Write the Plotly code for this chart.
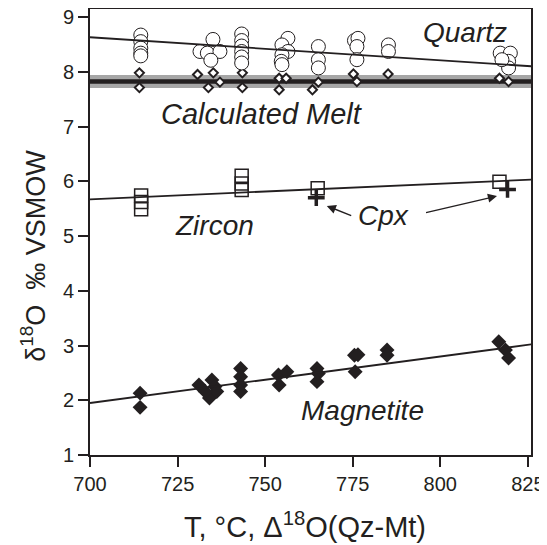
import plotly.graph_objects as go

# ---- data ----
quartz_T = [714.5]*5 + [731.4, 735.1, 733.5, 737.1, 734.5] + [743.3]*6 + \
           [756.5, 754.8, 756.5, 754.8, 754.6, 754.8] + [765.2]*3 + \
           [775.5, 776.5, 776.2, 776.2] + [785.2]*2 + [817.1, 820.0, 819.5, 819.5, 817.6]
quartz_d18O = [8.67, 8.55, 8.43, 8.34, 8.29] + [8.37, 8.59, 8.34, 8.37, 8.21] + \
              [8.69, 8.57, 8.47, 8.37, 8.27, 8.16] + [8.61, 8.49, 8.37, 8.31, 8.19, 8.13] + \
              [8.46, 8.22, 8.07] + [8.57, 8.61, 8.46, 8.22] + [8.49, 8.37] + \
              [8.34, 8.34, 8.19, 8.07, 8.22]

melt_T = [714.1, 714.1, 730.7, 735.2, 737.1, 733.8, 743.5, 743.5, 754.0, 756.0, 754.0,
          765.2, 763.5, 775.2, 776.2, 785.1, 816.9, 819.5]
melt_d18O = [7.98, 7.71, 7.95, 7.98, 7.81, 7.71, 7.98, 7.71, 7.88, 7.88, 7.67,
             7.81, 7.67, 7.96, 7.82, 7.96, 7.88, 7.82]

zircon_T = [714.6]*3 + [743.3]*3 + [765.0, 816.9]
zircon_d18O = [5.74, 5.62, 5.49, 6.10, 5.96, 5.84, 5.87, 5.99]

cpx_T = [764.6, 819.2]
cpx_d18O = [5.70, 5.85]

magnetite_T = [714.3, 714.3, 731.1, 734.8, 735.7, 734.1, 736.2, 732.9, 743.0, 743.0, 743.0, 743.0,
               753.8, 756.2, 754.0, 764.8, 765.2, 764.8, 775.5, 775.7, 776.5, 784.8, 784.8,
               816.7, 818.6, 819.5]
magnetite_d18O = [2.13, 1.87, 2.28, 2.37, 2.25, 2.04, 2.16, 2.16, 2.58, 2.43, 2.28, 2.16,
                  2.46, 2.52, 2.28, 2.58, 2.49, 2.34, 2.82, 2.52, 2.83, 2.92, 2.82,
                  3.07, 2.92, 2.77]

# regression lines (end values)
fit_T = [700, 826]
quartz_fit = [8.63, 8.10]
melt_fit = [7.82, 7.82]
zircon_fit = [5.67, 6.03]
magnetite_fit = [1.95, 3.02]

x_ticks = [700, 725, 750, 775, 800, 825]
y_ticks = [1, 2, 3, 4, 5, 6, 7, 8, 9]

INK = "#231f20"
FONT = "Liberation Sans, Arial, sans-serif"

fig = go.Figure()

# calculated melt band
fig.add_trace(go.Scatter(x=fit_T, y=melt_fit, mode="lines",
                         line=dict(color="#a6a6a6", width=13), hoverinfo="skip"))
fig.add_trace(go.Scatter(x=fit_T, y=melt_fit, mode="lines",
                         line=dict(color=INK, width=4.5), hoverinfo="skip"))

# markers
fig.add_trace(go.Scatter(x=melt_T, y=melt_d18O, mode="markers",
                         marker=dict(symbol="diamond", size=7, color="white",
                                     line=dict(color=INK, width=2))))
fig.add_trace(go.Scatter(x=quartz_T, y=quartz_d18O, mode="markers",
                         marker=dict(symbol="circle", size=14, color="white",
                                     line=dict(color=INK, width=1))))
fig.add_trace(go.Scatter(x=zircon_T, y=zircon_d18O, mode="markers",
                         marker=dict(symbol="square-open", size=13, color=INK,
                                     line=dict(color=INK, width=1.5))))
fig.add_trace(go.Scatter(x=cpx_T, y=cpx_d18O, mode="markers",
                         marker=dict(symbol="cross-thin", size=12,
                                     line=dict(color=INK, width=3.5))))
fig.add_trace(go.Scatter(x=magnetite_T, y=magnetite_d18O, mode="markers",
                         marker=dict(symbol="diamond", size=11.5, color=INK,
                                     line=dict(color=INK, width=0))))

# trend lines
for yy in (quartz_fit, zircon_fit, magnetite_fit):
    fig.add_trace(go.Scatter(x=fit_T, y=yy, mode="lines",
                             line=dict(color=INK, width=1.8), hoverinfo="skip"))

labels = [("Quartz", 807.1, 8.71, 28), ("Calculated Melt", 749.1, 7.22, 29),
          ("Zircon", 735.4, 5.19, 28), ("Cpx", 783.7, 5.38, 28), ("Magnetite", 777.7, 1.81, 28)]
for txt, x, y, fs in labels:
    fig.add_annotation(x=x, y=y, text=f"<i>{txt}</i>", showarrow=False,
                       font=dict(family=FONT, size=fs, color=INK),
                       xanchor="center", yanchor="middle")

# Cpx arrows
for (hx, hy, tx, ty) in [(767.6, 5.55, 775.0, 5.36), (816.2, 5.73, 795.5, 5.42)]:
    fig.add_annotation(x=hx, y=hy, ax=tx, ay=ty, xref="x", yref="y", axref="x", ayref="y",
                       text="", showarrow=True, arrowhead=2, arrowsize=1.3,
                       arrowwidth=1.4, arrowcolor=INK)

# axis titles
fig.add_annotation(x=-0.129, y=0.447, xref="paper", yref="paper",
                   text="δ<sup>18</sup>O  ‰ VSMOW", textangle=-90, showarrow=False,
                   font=dict(family=FONT, size=27, color=INK),
                   xanchor="center", yanchor="middle")
fig.add_annotation(x=0.487, y=-0.157, xref="paper", yref="paper",
                   text="T, °C, Δ<sup>18</sup>O(Qz-Mt)", showarrow=False,
                   font=dict(family=FONT, size=29, color=INK),
                   xanchor="center", yanchor="middle")

axis_common = dict(showgrid=False, zeroline=False, showline=True, linecolor=INK,
                   linewidth=2, mirror=True, ticks="outside", ticklen=10, tickwidth=2,
                   tickcolor=INK, automargin=False, ticklabeloverflow="allow",
                   tickfont=dict(family=FONT, size=20, color=INK))
fig.update_xaxes(range=[700, 825.9], tickvals=x_ticks, **axis_common)
fig.update_yaxes(range=[1, 9.146], tickvals=y_ticks, **axis_common)

# the page body adds an 8 px offset, so the figure is sized to fit the window
fig.update_layout(width=539, height=537, showlegend=False,
                  margin=dict(l=82, r=16, t=1, b=90),
                  paper_bgcolor="white", plot_bgcolor="white")

fig.write_html("out.html")
